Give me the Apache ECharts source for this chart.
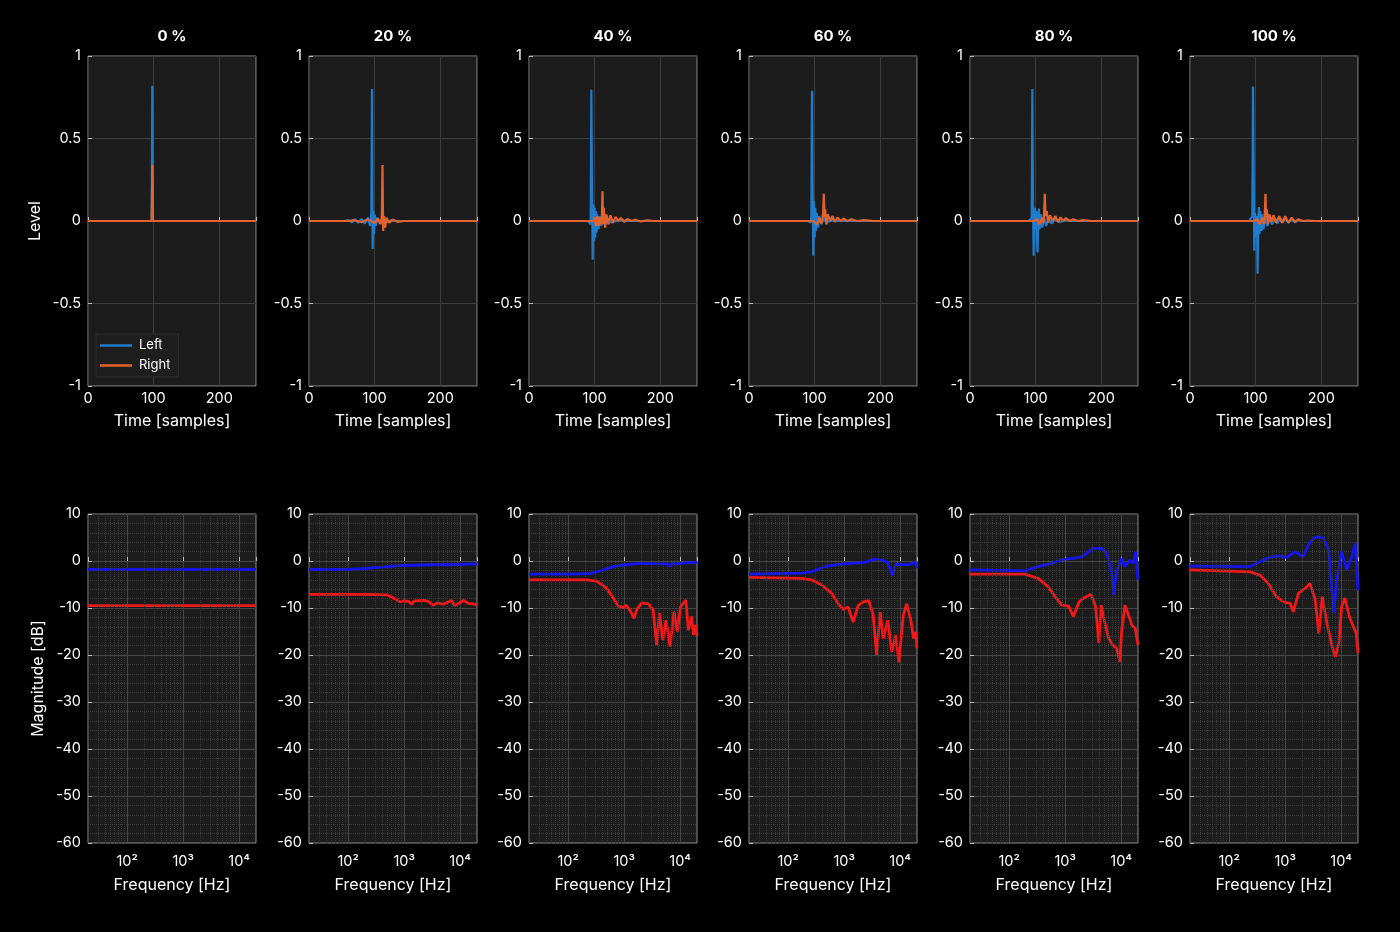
<!DOCTYPE html>
<html><head><meta charset="utf-8">
<script src="https://cdn.jsdelivr.net/npm/echarts@6.0.0/dist/echarts.min.js"></script>
<style>html,body{margin:0;padding:0;background:#000;}#c{width:1400px;height:932px;}</style>
</head><body><div id="c"></div><script>
// ---------- data ----------
const panelTitles = ['0 %', '20 %', '40 %', '60 %', '80 %', '100 %'];
const seriesNames = ['Left', 'Right'];
const minorFreqs = [30,40,50,60,70,80,90,200,300,400,500,600,700,800,900,2000,3000,4000,5000,6000,7000,8000,9000];
const freqTickLabels = {2: '10²', 3: '10³', 4: '10⁴'};

// impulse responses: [sample, level]
const irLeft0 = [[0,0],[97,0],[98,0.82],[99,0],[256,0]];
const irRight0 = [[0,0],[97,0],[98,0.34],[99,0],[256,0]];
const irLeft20 = [[0,0],[55,0],[60,0.005],[65,-0.008],[70,0.01],[75,-0.01],[80,0.012],[85,-0.015],[90,0.02],[93,-0.03],[95,0.05],[96,0.80],[97,-0.17],[98,0.06],[99,-0.08],[100,0.04],[102,-0.03],[104,0.02],[108,-0.015],[112,0.01],[118,-0.008],[125,0.005],[132,0],[256,0]];
const irRight20 = [[0,0],[60,0],[70,0.005],[80,-0.008],[90,0.01],[100,-0.012],[105,0.015],[109,-0.02],[111,0.03],[112,0.34],[113,-0.06],[114,0.03],[116,-0.04],[118,0.02],[122,-0.01],[128,0.008],[135,-0.005],[145,0],[256,0]];
const irLeft40 = [[0,0],[90,0],[93,0.01],[94,-0.02],[95,0.795],[96,0.2],[97,-0.235],[98,0.1],[99,-0.12],[100,0.08],[101,-0.1],[102,0.06],[103,-0.07],[104,0.04],[106,-0.05],[108,0.03],[110,-0.03],[113,0.02],[116,-0.02],[120,0.01],[126,-0.01],[135,0.005],[150,0],[256,0]];
const irRight40 = [[0,0],[98,0],[100,0.02],[102,-0.03],[104,0.03],[106,-0.03],[108,0.02],[110,-0.02],[111,0.03],[112,0.18],[113,-0.02],[114,0.08],[116,-0.04],[118,0.04],[121,-0.02],[124,0.035],[128,-0.01],[132,0.025],[136,0],[140,0.018],[145,-0.005],[150,0.012],[156,0],[162,0.008],[170,-0.003],[180,0.004],[190,0],[256,0]];
const irLeft60 = [[0,0],[90,0],[94,-0.01],[95,0.02],[96,0.79],[97,0.17],[98,-0.21],[99,0.12],[100,-0.1],[101,0.08],[102,-0.06],[103,0.05],[105,-0.04],[107,0.03],[110,-0.02],[114,0.015],[118,-0.01],[125,0.005],[135,0],[256,0]];
const irRight60 = [[0,0],[98,0],[101,0.01],[104,-0.02],[107,0.02],[110,-0.015],[112,0.02],[113,0.05],[114,0.165],[115,0.02],[116,0.07],[118,-0.02],[120,0.04],[124,0],[127,0.03],[131,-0.005],[135,0.02],[140,0],[144,0.015],[150,0],[156,0.01],[165,0],[175,0.005],[190,0],[256,0]];
const irLeft80 = [[0,0],[90,0],[93,-0.01],[94,0.02],[95,0.80],[96,0.1],[97,-0.21],[98,0.05],[99,0.08],[100,-0.05],[101,0.06],[102,-0.1],[103,-0.19],[104,0.02],[105,0.075],[106,-0.05],[108,0.04],[110,-0.04],[113,0.02],[116,-0.03],[120,0.015],[124,-0.015],[130,0.01],[136,-0.008],[145,0.005],[155,0],[256,0]];
const irRight80 = [[0,0],[98,0],[102,0.01],[106,-0.02],[110,0.02],[112,-0.01],[113,0.06],[114,0.165],[115,0.03],[117,0.06],[119,-0.01],[122,0.035],[126,0],[130,0.03],[134,-0.005],[138,0.022],[142,0],[146,0.018],[152,0],[157,0.01],[165,0],[172,0.005],[185,0],[256,0]];
const irLeft100 = [[0,0],[90,0],[93,-0.01],[95,0.03],[96,0.815],[97,0.3],[98,-0.18],[99,0.05],[100,0],[101,-0.1],[102,0.03],[103,-0.32],[104,0],[105,0.085],[106,-0.08],[107,0.06],[108,0.07],[109,-0.06],[110,0.04],[112,-0.05],[115,0.03],[118,-0.03],[121,0.025],[125,-0.02],[129,0.02],[133,-0.015],[137,0.02],[141,-0.01],[145,0.015],[150,-0.01],[155,0.01],[160,-0.008],[165,0.005],[172,0],[256,0]];
const irRight100 = [[0,0],[98,0],[102,0.01],[106,-0.02],[110,0.02],[113,-0.02],[114,0.05],[115,0.165],[116,0.02],[117,0.07],[119,-0.02],[121,0.04],[124,-0.005],[127,0.035],[131,-0.01],[136,0.03],[140,-0.01],[145,0.028],[150,-0.01],[155,0.02],[160,-0.005],[165,0.01],[172,0],[180,0.003],[190,0],[256,0]];

// magnitude responses: [Hz, dB]
const frLeft0 = [[20,-1.8],[20000,-1.8]];
const frRight0 = [[20,-9.5],[20000,-9.5]];
const frLeft20 = [[20,-1.8],[100,-1.8],[200,-1.6],[420,-1.3],[800,-1.0],[1500,-0.9],[3000,-0.8],[6000,-0.8],[10000,-0.7],[20000,-0.6]];
const frRight20 = [[20,-7.1],[200,-7.1],[490,-7.2],[650,-7.9],[843,-8.7],[1000,-8.5],[1200,-8.6],[1365,-9.2],[1500,-8.5],[2200,-8.4],[2700,-8.6],[3300,-9.4],[4000,-8.9],[5000,-9.2],[7000,-8.4],[8000,-9.5],[9500,-9.0],[11400,-8.4],[14000,-9.0],[17000,-9.1],[20000,-9.4]];
const frLeft40 = [[20,-2.8],[100,-2.8],[245,-2.7],[400,-2.0],[640,-1.2],[966,-0.85],[1900,-0.5],[4000,-0.6],[6000,-0.6],[6600,-1.1],[7200,-0.6],[9000,-0.6],[12000,-0.4],[20000,-0.3]];
const frRight40 = [[20,-4.0],[215,-4.0],[325,-4.3],[487,-5.8],[641,-7.9],[787,-9.6],[966,-9.9],[1100,-9.4],[1360,-11.1],[1500,-12.2],[1670,-10.4],[2060,-8.9],[2700,-9.1],[3300,-10.4],[3800,-17.9],[4270,-11.1],[4900,-16.8],[5600,-12.6],[6600,-18.2],[7800,-10.8],[8900,-15],[10200,-9.7],[12700,-8.3],[14000,-14.7],[16000,-11.8],[17400,-15.7],[19000,-13.6],[20000,-16]];
const frLeft60 = [[20,-2.8],[175,-2.6],[262,-2.3],[455,-1.2],[787,-0.7],[1360,-0.5],[2350,-0.3],[3560,0.4],[4700,0.2],[6000,-0.3],[7300,-3.1],[8100,-0.8],[10700,-0.7],[14000,-0.8],[18600,-0.3],[20000,-1.5]];
const frRight60 = [[20,-3.5],[175,-3.7],[262,-4.0],[400,-5.1],[600,-6.9],[787,-9.1],[966,-10.3],[1180,-9.8],[1450,-13.0],[1780,-9.5],[2200,-8.7],[2750,-8.4],[3300,-11.5],[3800,-20],[4400,-10.9],[5000,-16.5],[6000,-12.6],[7100,-19.3],[8300,-15.8],[9500,-21.5],[11400,-11.5],[13100,-9.1],[15500,-12.6],[17400,-16.5],[19000,-15.1],[20000,-18.6]];
const frLeft80 = [[20,-1.9],[191,-2.1],[330,-1.2],[575,-0.5],[930,0.35],[1500,0.6],[1970,0.9],[2400,1.6],[3200,2.7],[4500,2.7],[5500,1.6],[6800,-2.3],[7300,-7.2],[8300,-2.3],[10200,0.6],[11700,-1.2],[14400,0.2],[16600,-0.5],[18200,2.0],[20000,-4.0]];
const frRight80 = [[20,-2.8],[191,-2.8],[330,-3.7],[500,-5.5],[660,-7.6],[870,-9.4],[1150,-9.6],[1400,-11.8],[1780,-8.7],[2200,-7.8],[2900,-7.1],[3500,-9.7],[4000,-17.5],[4400,-9.4],[5000,-12.6],[6000,-16.5],[7100,-17.9],[8300,-18.6],[9500,-21.4],[10200,-15.0],[11700,-9.4],[13500,-11.5],[15500,-13.6],[17800,-14.3],[20000,-17.9]];
const frLeft100 = [[20,-1.1],[235,-1.2],[355,-0.1],[540,0.8],[815,1.1],[1070,0.7],[1500,2.0],[2100,0.9],[2600,3.4],[3200,4.8],[4000,5.2],[4900,4.8],[6000,2.3],[7400,-11.1],[8200,-4.8],[10200,2.0],[12600,-1.9],[15500,0.9],[17800,3.8],[20000,-6.2]];
const frRight100 = [[20,-1.9],[235,-2.3],[355,-3.0],[500,-4.8],[700,-7.6],[930,-8.7],[1230,-9.0],[1400,-10.8],[1730,-6.9],[2280,-5.8],[2800,-4.8],[3450,-8.3],[4000,-15.4],[4600,-7.6],[5600,-13.3],[6900,-18.2],[7900,-20.4],[9100,-17.5],[10200,-9.7],[11700,-7.9],[14000,-11.8],[16600,-14.0],[18600,-15.4],[20000,-19.6]];

const irLeft = [irLeft0, irLeft20, irLeft40, irLeft60, irLeft80, irLeft100];
const irRight = [irRight0, irRight20, irRight40, irRight60, irRight80, irRight100];
const frLeft = [frLeft0, frLeft20, frLeft40, frLeft60, frLeft80, frLeft100];
const frRight = [frRight0, frRight20, frRight40, frRight60, frRight80, frRight100];

// ---------- layout / style ----------
const FONT = 'Inter, "Noto Sans", sans-serif';
const lefts = [88, 309, 529, 749, 970, 1190];
const W = 168;
const BLUE_IR = '#1f7ccc', ORANGE_IR = '#e4622b';
const BLUE_FR = '#1414ee', RED_FR = '#f01818';

const grids = [], xAxes = [], yAxes = [], series = [], titles = [];
const tickStyle = {show: true, inside: true, length: 4, lineStyle: {color: '#bbbbbb', width: 1}};
const lblStyle = {color: '#ffffff', fontFamily: FONT, fontSize: 14.5};
const nameStyle = {color: '#ffffff', fontFamily: FONT, fontSize: 16};

for (let i = 0; i < 6; i++) {
  titles.push({text: panelTitles[i], left: lefts[i] + W / 2, top: 29, textAlign: 'center', padding: 0,
    textStyle: {color: '#ffffff', fontFamily: FONT, fontSize: 15, fontWeight: 'bold'}});
  grids.push({left: lefts[i], top: 56, width: W, height: 330, show: true,
    backgroundColor: '#1c1c1c', borderColor: '#8c8c8c', borderWidth: 1, containLabel: false, outerBoundsMode: 'none'});
  grids.push({left: lefts[i], top: 514, width: W, height: 329, show: true,
    backgroundColor: '#1c1c1c', borderColor: '#8c8c8c', borderWidth: 1, containLabel: false, outerBoundsMode: 'none'});
  const gt = 2 * i, gb = 2 * i + 1;
  xAxes.push({gridIndex: gt, type: 'value', min: 0, max: 256, interval: 100,
    axisLine: {show: false}, axisTick: tickStyle, showMaxLabel: false,
    axisLabel: Object.assign({margin: 5, formatter: v => (v % 100 === 0 ? String(v) : '')}, lblStyle),
    splitLine: {show: true, lineStyle: {color: '#3d3d3d', width: 1}},
    name: 'Time [samples]', nameLocation: 'middle', nameGap: 27, nameTextStyle: nameStyle});
  xAxes.push({gridIndex: gb, type: 'log', logBase: 10, min: 20, max: 20000,
    axisLine: {show: false}, axisTick: tickStyle,
    axisLabel: Object.assign({margin: 11, formatter: v => {
      const k = Math.round(Math.log10(v));
      return (Math.abs(v - Math.pow(10, k)) / v < 1e-6 && freqTickLabels[k]) ? freqTickLabels[k] : '';
    }}, lblStyle),
    splitLine: {show: true, lineStyle: {color: '#464646', width: 1}},
    name: 'Frequency [Hz]', nameLocation: 'middle', nameGap: 34, nameTextStyle: nameStyle});
  yAxes.push({gridIndex: gt, type: 'value', min: -1, max: 1, interval: 0.5,
    axisLine: {show: false}, axisTick: tickStyle,
    axisLabel: Object.assign({margin: 7}, lblStyle),
    splitLine: {show: true, lineStyle: {color: '#3d3d3d', width: 1}},
    name: i === 0 ? 'Level' : '', nameLocation: 'middle', nameGap: 45, nameTextStyle: nameStyle});
  yAxes.push({gridIndex: gb, type: 'value', min: -60, max: 10, interval: 10,
    axisLine: {show: false}, axisTick: tickStyle,
    axisLabel: Object.assign({margin: 7}, lblStyle),
    minorTick: {show: false, splitNumber: 5},
    minorSplitLine: {show: true, lineStyle: {color: '#3a3a3a', type: 'dotted', width: 1}},
    splitLine: {show: true, lineStyle: {color: '#464646', width: 1}},
    name: i === 0 ? 'Magnitude [dB]' : '', nameLocation: 'middle', nameGap: 42, nameTextStyle: nameStyle});

  series.push({type: 'line', xAxisIndex: gb, yAxisIndex: gb, data: [], silent: true, z: 1,
    markLine: {silent: true, symbol: ['none', 'none'], animation: false, label: {show: false},
      lineStyle: {type: 'dotted', color: '#3a3a3a', width: 1},
      data: minorFreqs.map(f => ({xAxis: f}))}});

  series.push({name: seriesNames[0], type: 'line', xAxisIndex: gt, yAxisIndex: gt, data: irLeft[i],
    symbol: 'none', showSymbol: false, lineStyle: {color: BLUE_IR, width: 2.2}, itemStyle: {color: BLUE_IR}, z: 3});
  series.push({name: seriesNames[1], type: 'line', xAxisIndex: gt, yAxisIndex: gt, data: irRight[i],
    symbol: 'none', showSymbol: false, lineStyle: {color: ORANGE_IR, width: 2.2}, itemStyle: {color: ORANGE_IR}, z: 4});
  series.push({name: 'L' + i, type: 'line', xAxisIndex: gb, yAxisIndex: gb, data: frLeft[i],
    symbol: 'none', lineStyle: {color: BLUE_FR, width: 2.8}, z: 3});
  series.push({name: 'R' + i, type: 'line', xAxisIndex: gb, yAxisIndex: gb, data: frRight[i],
    symbol: 'none', lineStyle: {color: RED_FR, width: 2.8}, z: 4});
}

const chart = echarts.init(document.getElementById('c'), null, {renderer: 'canvas'});
chart.setOption({
  backgroundColor: '#000000',
  animation: false,
  title: titles,
  legend: {data: seriesNames, orient: 'vertical', left: 96, top: 334,
    icon: 'rect', itemWidth: 32, itemHeight: 2.5, itemGap: 7, padding: [5, 8, 5, 4],
    backgroundColor: '#1e1e1e', borderColor: '#2e2e2e', borderWidth: 1,
    textStyle: {color: '#ffffff', fontFamily: FONT, fontSize: 13, padding: [0, 0, 0, 2]}},
  grid: grids,
  xAxis: xAxes,
  yAxis: yAxes,
  series: series
});
</script></body></html>
